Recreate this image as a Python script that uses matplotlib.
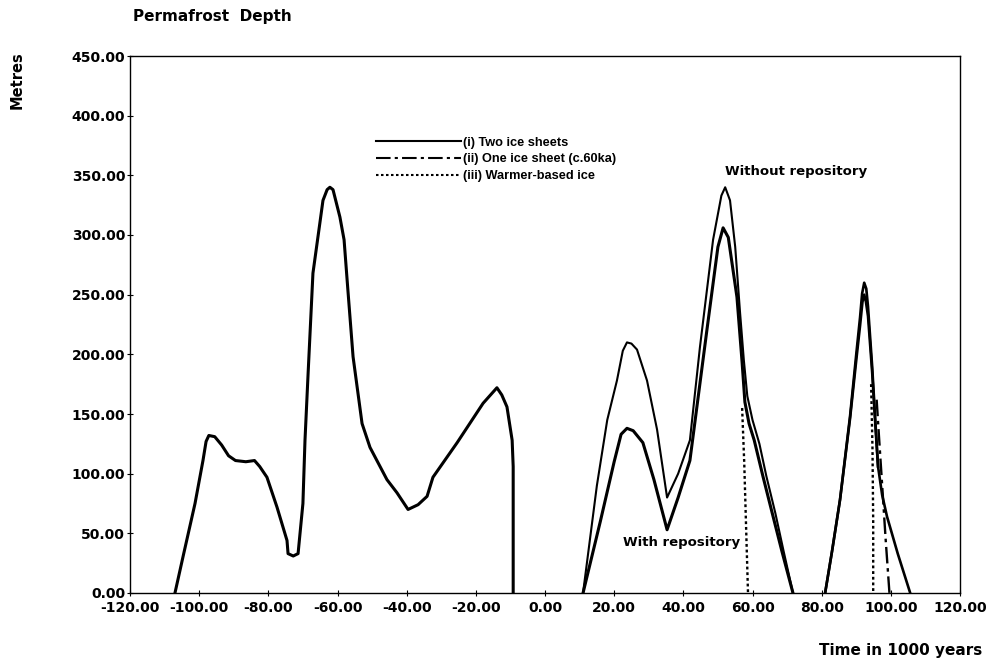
import matplotlib
matplotlib.use("Agg")
import matplotlib.pyplot as plt
from matplotlib.ticker import FormatStrFormatter

plt.rcParams['font.family'] = ['DejaVu Sans']
plt.rcParams['font.weight'] = 'bold'

# past cycle (single curve)
past_t = [-107, -104.7, -101.2, -98.9, -98, -97.2, -95.5, -93.5, -91.5, -89.5, -86.5, -84, -82.5,
          -80.4, -77.5, -74.6, -74.3, -72.8, -71.4, -70, -69.4, -68.5, -67.1, -65.1, -64.2, -63,
          -62.2, -61.3, -59.3, -58.1, -57, -55.5, -52.9, -50.6, -45.7, -42.8, -39.6, -36.7, -34.1,
          -32.4, -25.4, -17.9, -13.9, -12.5, -11, -9.5, -9.2, -9.2]
past_d = [0, 30, 75, 111, 127, 132, 131, 124, 115, 111, 110, 111, 106,
          97, 72, 44, 33, 31, 33, 75, 128, 184, 268, 310, 329, 338,
          340, 338, 315, 296, 254, 198, 142, 122, 95, 84, 70, 74, 81,
          97, 126, 159, 172, 166, 156, 128, 106, 0]

# future, without repository (outer curve)
without_t = [11, 15, 18, 20.8, 22.5, 23.7, 25, 26.6, 29.5, 32.4, 35.3, 38.5, 41.9, 44.8, 48.6,
             51, 52.1, 53.5, 55, 56.4, 57.5, 58.5, 60, 62, 64, 66.6, 69, 71.7]
without_d = [0, 90, 145, 178, 203, 210, 209, 204, 178, 137, 80, 100, 128, 206, 296,
             333, 340, 329, 290, 235, 195, 165, 145, 125, 98, 67, 35, 0]

# future, with repository (inner curve)
with_t = [11, 16, 20, 22, 23.7, 25.5, 28.3, 31.5, 35.3, 38.5, 41.9, 46.8, 50, 51.5, 53,
          55.5, 57, 57.8, 59, 60.5, 63, 65.7, 68.5, 71.7]
with_d = [0, 60, 110, 133, 138, 136, 126, 95, 53, 80, 111, 220, 290, 306, 298,
          248, 193, 160, 142, 128, 98, 67, 35, 0]

# third peak
peak3_without_t = [81, 83, 85.3, 88.2, 90, 91.1, 91.7, 92.3, 92.9, 93.4, 94.6, 95.5, 96.3, 97.5, 98.9, 102, 105.6]
peak3_without_d = [0, 35, 78, 148, 200, 231, 251, 260, 255, 240, 190, 145, 106, 82, 64, 33, 0]
peak3_with_t = [81, 83, 85.3, 88.2, 90, 91.1, 91.8, 92.3, 92.8, 93.4, 94.6, 95.5, 96.3]
peak3_with_d = [0, 35, 78, 146, 195, 224, 244, 250, 244, 232, 185, 142, 106]

# (ii) one ice sheet - divergence
one_sheet_t = [95.9, 96.6, 97.5, 98.5, 99.6]
one_sheet_d = [162, 130, 90, 45, 0]

# (iii) warmer-based ice - divergences
warm1_t = [57.0, 57.6, 58.2, 58.7]
warm1_d = [155, 110, 50, 0]
warm2_t = [94.3, 94.7, 94.9, 94.9]
warm2_d = [175, 120, 60, 0]

fig = plt.figure(figsize=(10.08, 6.65), dpi=100)
ax = fig.add_axes([130 / 1008, 1 - 593 / 665, 830 / 1008, 537 / 665])

dashdot = (0, (7, 2, 1.5, 2))
dotted = (0, (1.2, 1.2))

ax.plot(past_t, past_d, color='black', lw=2.2, solid_joinstyle='round')
ax.plot(without_t, without_d, color='black', lw=1.5, solid_joinstyle='round')
ax.plot(with_t, with_d, color='black', lw=2.2, solid_joinstyle='round')
ax.plot(peak3_without_t, peak3_without_d, color='black', lw=1.9, solid_joinstyle='round')
ax.plot(peak3_with_t, peak3_with_d, color='black', lw=1.9, solid_joinstyle='round')
ax.plot(one_sheet_t, one_sheet_d, color='black', lw=1.7, linestyle=dashdot)
ax.plot(warm1_t, warm1_d, color='black', lw=1.7, linestyle=dotted)
ax.plot(warm2_t, warm2_d, color='black', lw=1.7, linestyle=dotted)

# legend entries
ax.plot([], [], color='black', lw=1.5, label='(i) Two ice sheets')
ax.plot([], [], color='black', lw=1.5, linestyle=dashdot, label='(ii) One ice sheet (c.60ka)')
ax.plot([], [], color='black', lw=1.5, linestyle=dotted, label='(iii) Warmer-based ice')
handles, labels = ax.get_legend_handles_labels()
ax.legend(handles, labels, loc='upper left', bbox_to_anchor=(0.296, 0.85), frameon=False,
          prop={'family': 'Liberation Sans', 'weight': 'bold', 'size': 9.2},
          handlelength=6.65, handletextpad=0.2, labelspacing=0.38,
          borderpad=0, borderaxespad=0)

ax.set_xlim(-120, 120)
ax.set_ylim(0, 450)
ax.set_xticks(range(-120, 121, 20))
ax.set_yticks(range(0, 451, 50))
ax.xaxis.set_major_formatter(FormatStrFormatter('%.2f'))
ax.yaxis.set_major_formatter(FormatStrFormatter('%.2f'))
ax.tick_params(direction='inout', length=5, width=0.8, labelsize=10)
ax.tick_params(axis='y', pad=1)
ax.tick_params(axis='x', pad=3)
for s in ax.spines.values():
    s.set_linewidth(1.0)

ax.text(52.1, 353, 'Without repository', fontsize=9.5, ha='left', va='center')
ax.text(22.6, 42, 'With repository', fontsize=9.5, ha='left', va='center')

fig.text(133 / 1008, 1 - 17 / 665, 'Permafrost  Depth', fontsize=11, ha='left', va='center')
fig.text(17 / 1008, 1 - 80 / 665, 'Metres', fontsize=10.5, rotation=90, ha='center', va='center')
fig.text(982 / 1008, 1 - 651 / 665, 'Time in 1000 years', fontsize=11, ha='right', va='center')

fig.savefig('out.png', dpi=100)
